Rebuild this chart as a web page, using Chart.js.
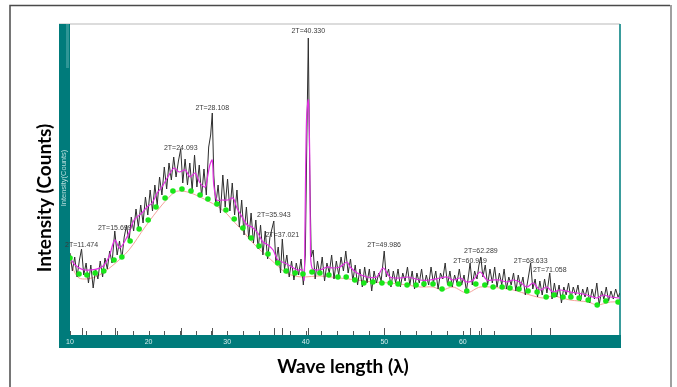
<!DOCTYPE html>
<html>
<head>
<meta charset="utf-8">
<script src="https://cdn.jsdelivr.net/npm/chart.js@4.4.0/dist/chart.umd.min.js"></script>
<style>
html, body { margin: 0; padding: 0; background: #ffffff; }
#wrap { position: relative; width: 677px; height: 387px; }
</style>
</head>
<body>
<div id="wrap"><canvas id="xrdChart" width="677" height="387"></canvas></div>
<script>
"use strict";

// axis ticks (2-theta)
var tickLabels = [10, 20, 30, 40, 50, 60];
var minorTicks = [10, 12, 14, 16, 18, 20, 22, 24, 26, 28, 30, 32, 34, 36, 38, 40, 42, 44, 46, 48, 50, 52, 54, 56, 58, 60, 62, 64];

// marked peaks and the height of their labels
var peakAngles = [11.474, 15.699, 24.093, 28.108, 35.943, 37.021, 40.330, 49.986, 60.919, 62.289, 68.633, 71.058];
var peakLabelHeights = [90, 107, 187, 227, 120, 100, 304, 90, 74, 84, 74, 65];

// measured counts [2T, counts]
var rawTrace = [
    [10.00, 82], [10.30, 64], [10.60, 78], [10.90, 58], [11.20, 75], [11.47, 86], [11.75, 60], [12.05, 72],
    [12.35, 52], [12.65, 70], [12.95, 47], [13.25, 66], [13.55, 56], [13.85, 74], [14.15, 58], [14.45, 77],
    [14.75, 66], [15.05, 84], [15.35, 72], [15.70, 104], [16.00, 80], [16.30, 94], [16.60, 76], [16.90, 98],
    [17.20, 110], [17.50, 92], [17.80, 118], [18.10, 104], [18.40, 126], [18.70, 108], [19.00, 130], [19.30, 112],
    [19.60, 138], [19.90, 120], [20.20, 145], [20.50, 124], [20.80, 150], [21.10, 130], [21.40, 158], [21.70, 140],
    [22.00, 168], [22.30, 146], [22.60, 172], [22.90, 155], [23.20, 178], [23.50, 158], [23.80, 174], [24.09, 186],
    [24.35, 152], [24.65, 176], [24.95, 150], [25.25, 172], [25.55, 145], [25.85, 180], [26.15, 148], [26.45, 170],
    [26.75, 138], [27.05, 166], [27.35, 140], [27.65, 188], [27.90, 200], [28.11, 222], [28.30, 160], [28.55, 130],
    [28.85, 150], [29.15, 122], [29.45, 160], [29.75, 128], [30.05, 156], [30.35, 124], [30.65, 152], [30.95, 120],
    [31.25, 145], [31.55, 108], [31.85, 135], [32.15, 100], [32.45, 128], [32.75, 96], [33.05, 122], [33.35, 92],
    [33.65, 115], [33.95, 86], [34.25, 110], [34.55, 80], [34.85, 104], [35.15, 76], [35.45, 98], [35.94, 114],
    [36.20, 72], [36.50, 88], [36.80, 62], [37.02, 96], [37.30, 66], [37.60, 80], [37.90, 58], [38.20, 74],
    [38.50, 55], [38.80, 72], [39.10, 60], [39.40, 76], [39.70, 50], [39.95, 80], [40.15, 200], [40.33, 297],
    [40.50, 170], [40.70, 78], [40.95, 85], [41.20, 56], [41.50, 74], [41.80, 60], [42.10, 78], [42.40, 54],
    [42.70, 72], [43.00, 62], [43.30, 80], [43.60, 56], [43.90, 74], [44.20, 60], [44.50, 78], [44.80, 64],
    [45.10, 84], [45.40, 62], [45.70, 76], [46.00, 54], [46.30, 70], [46.60, 50], [46.90, 66], [47.20, 48],
    [47.50, 68], [47.80, 52], [48.10, 66], [48.40, 44], [48.70, 64], [49.00, 52], [49.30, 62], [49.60, 54],
    [49.99, 84], [50.25, 58], [50.55, 66], [50.85, 48], [51.15, 64], [51.45, 52], [51.75, 66], [52.05, 48],
    [52.35, 62], [52.65, 54], [52.95, 68], [53.25, 50], [53.55, 64], [53.85, 46], [54.15, 62], [54.45, 52],
    [54.75, 66], [55.05, 48], [55.35, 60], [55.65, 50], [55.95, 68], [56.25, 52], [56.55, 64], [56.85, 46],
    [57.15, 62], [57.45, 56], [57.75, 72], [58.05, 50], [58.35, 64], [58.65, 48], [58.95, 60], [59.25, 52],
    [59.55, 66], [59.85, 50], [60.15, 60], [60.45, 44], [60.70, 58], [60.92, 72], [61.20, 50], [61.50, 64],
    [61.80, 56], [62.05, 70], [62.29, 78], [62.55, 58], [62.85, 70], [63.15, 50], [63.45, 66], [63.75, 52],
    [64.05, 68], [64.35, 48], [64.65, 62], [64.95, 50], [65.25, 66], [65.55, 46], [65.85, 58], [66.15, 50],
    [66.45, 62], [66.75, 44], [67.05, 60], [67.35, 48], [67.65, 58], [67.95, 40], [68.30, 56], [68.63, 72],
    [68.90, 46], [69.20, 56], [69.50, 38], [69.80, 54], [70.10, 40], [70.40, 56], [70.70, 42], [71.06, 62],
    [71.35, 36], [71.65, 52], [71.95, 38], [72.25, 50], [72.55, 32], [72.85, 48], [73.15, 40], [73.45, 52],
    [73.75, 36], [74.05, 48], [74.35, 40], [74.65, 50], [74.95, 34], [75.25, 46], [75.55, 38], [75.85, 48],
    [76.15, 32], [76.45, 46], [76.75, 36], [77.05, 52], [77.35, 30], [77.65, 44], [77.95, 36], [78.25, 48],
    [78.55, 34], [78.85, 44], [79.15, 36], [79.45, 46], [79.75, 38], [80.00, 42]
];

// smoothed counts
var smoothTrace = [
    [10.0, 77], [10.65, 70], [11.9, 65], [14.05, 68], [14.95, 78], [15.7, 95], [16.35, 87], [17.5, 102],
    [18.15, 115], [19.15, 122], [19.8, 128], [20.45, 132], [21.1, 142], [21.7, 148], [22.6, 160], [23.25, 167],
    [23.9, 163], [24.65, 165], [25.3, 158], [25.9, 162], [26.55, 152], [27.2, 148], [27.55, 160], [27.8, 170],
    [28.1, 175], [28.3, 150], [28.7, 135], [29.35, 135], [30.1, 135], [30.75, 137], [31.25, 127], [31.9, 118],
    [32.55, 110], [33.15, 108], [33.9, 102], [34.55, 93], [35.2, 90], [35.85, 85], [36.45, 75], [37.35, 72],
    [38.25, 68], [38.9, 65], [39.55, 65], [39.8, 55], [39.9, 105], [40.1, 215], [40.33, 235], [40.5, 185],
    [40.6, 95], [40.8, 67], [41.8, 65], [42.7, 68], [43.45, 67], [44.35, 68], [45.25, 73], [45.65, 68],
    [46.55, 62], [47.8, 58], [49.05, 58], [49.85, 67], [50.75, 58], [52.0, 57], [53.0, 58], [54.55, 55],
    [55.8, 55], [57.1, 57], [58.0, 58], [58.75, 55], [59.65, 57], [60.5, 53], [61.3, 55], [62.2, 63],
    [63.05, 55], [63.85, 55], [64.7, 55], [65.6, 53], [66.4, 55], [67.25, 53], [68.15, 48], [68.95, 52],
    [69.8, 45], [70.7, 48], [71.45, 43], [72.35, 45], [73.65, 43], [74.55, 42], [75.8, 40], [77.05, 37],
    [77.85, 40], [78.75, 38], [80.0, 37]
];

// fitted background curve
var backgroundCurve = [
    [10.0, 73], [11.15, 57], [13.2, 58], [15.35, 69], [17.5, 85], [19.55, 108], [21.7, 130], [23.35, 143],
    [24.25, 144], [25.4, 142], [26.55, 138], [27.55, 134], [28.7, 129], [29.85, 122], [30.9, 113], [32.0, 104],
    [33.05, 94], [34.05, 86], [35.2, 78], [36.45, 69], [37.5, 62], [38.65, 59], [39.65, 58], [41.8, 59],
    [44.35, 57], [46.5, 55], [48.55, 53], [50.7, 52], [52.9, 50], [54.55, 48], [56.2, 48], [57.35, 45],
    [58.75, 48], [60.5, 42], [62.2, 48], [64.7, 47], [66.4, 45], [68.55, 40], [70.2, 37], [71.5, 39],
    [73.65, 35], [75.95, 33], [77.1, 30], [78.75, 33], [80.0, 33]
];

// background anchor points
var backgroundPoints = [
    [10.0, 77], [11.15, 61], [12.15, 60], [13.2, 62], [14.3, 64], [15.6, 75], [16.6, 78], [17.65, 94],
    [18.8, 106], [19.95, 115], [20.95, 128], [22.1, 137], [23.1, 144], [24.25, 146], [25.4, 144], [26.55, 140],
    [27.55, 136], [28.7, 131], [29.85, 125], [30.9, 116], [32.0, 107], [33.05, 97], [34.05, 89], [35.2, 81],
    [36.45, 72], [37.5, 64], [38.65, 62], [39.65, 61], [40.8, 63], [41.8, 62], [42.95, 60], [44.1, 58],
    [45.15, 58], [46.25, 55], [47.4, 52], [48.55, 53], [49.7, 52], [50.75, 52], [51.75, 51], [52.9, 50],
    [54.05, 50], [55.05, 51], [56.2, 51], [57.35, 46], [58.35, 51], [59.5, 51], [60.5, 44], [61.65, 51],
    [62.8, 50], [63.85, 48], [65.0, 48], [66.0, 47], [67.15, 46], [68.3, 44], [69.45, 43], [70.6, 38],
    [71.6, 40], [72.75, 38], [73.75, 38], [74.8, 37], [75.95, 35], [77.1, 30], [78.2, 34], [79.75, 33]
];

var TEAL = "#007b7b";

function toPoints(list)
{
    return list.map(function(p)
    {
        return { x: p[0], y: p[1] };
    });
}

var framePlugin =
{
    id: "xrdFrame",

    beforeDraw: function(chart)
    {
        var ctx = chart.ctx;
        var area = chart.chartArea;
        ctx.save();
        ctx.fillStyle = "#ffffff";
        ctx.fillRect(0, 0, chart.width, chart.height);

        // outer border
        ctx.strokeStyle = "#4a4a4a";
        ctx.lineWidth = 1.5;
        ctx.beginPath();
        ctx.moveTo(10, 387);
        ctx.lineTo(10, 5.5);
        ctx.lineTo(670, 5.5);
        ctx.stroke();
        ctx.strokeStyle = "#a0a0a0";
        ctx.lineWidth = 2;
        ctx.beginPath();
        ctx.moveTo(671, 5);
        ctx.lineTo(671, 387);
        ctx.stroke();

        // plot frame
        ctx.strokeStyle = "#d0d0d0";
        ctx.lineWidth = 1.5;
        ctx.beginPath();
        ctx.moveTo(59, area.top);
        ctx.lineTo(area.right, area.top);
        ctx.stroke();
        ctx.fillStyle = TEAL;
        ctx.fillRect(59, area.top, area.left - 59, 348 - area.top);
        ctx.fillRect(59, area.bottom, area.right - 58, 348 - area.bottom);
        ctx.fillStyle = "#2f9696";
        ctx.fillRect(66, area.top, 3, 44);
        ctx.fillStyle = "#3a9c9c";
        ctx.fillRect(area.right - 1, area.top, 2, area.bottom - area.top);

        // label inside left strip
        ctx.translate(64, 178);
        ctx.rotate(-Math.PI / 2);
        ctx.fillStyle = "#b9dede";
        ctx.font = "7.5px Arial, 'Liberation Sans', sans-serif";
        ctx.textAlign = "center";
        ctx.textBaseline = "middle";
        ctx.fillText("Intensity(Counts)", 0, 0);
        ctx.restore();
    },

    afterDatasetsDraw: function(chart)
    {
        var ctx = chart.ctx;
        var area = chart.chartArea;
        var xScale = chart.scales.x;
        var yScale = chart.scales.y;
        ctx.save();

        // ticks
        ctx.strokeStyle = "#555555";
        ctx.lineWidth = 1;
        ctx.beginPath();
        minorTicks.forEach(function(v)
        {
            var px = Math.round(xScale.getPixelForValue(v)) + 0.5;
            ctx.moveTo(px, area.bottom);
            ctx.lineTo(px, area.bottom - 4);
        });
        peakAngles.forEach(function(v)
        {
            var px = Math.round(xScale.getPixelForValue(v)) + 0.5;
            ctx.moveTo(px, area.bottom);
            ctx.lineTo(px, area.bottom - 7);
        });
        ctx.stroke();

        // tick labels
        ctx.fillStyle = "#d6eeee";
        ctx.font = "7px Arial, 'Liberation Sans', sans-serif";
        ctx.textAlign = "center";
        ctx.textBaseline = "middle";
        tickLabels.forEach(function(v)
        {
            ctx.fillText(String(v), xScale.getPixelForValue(v), 342);
        });

        // peak labels
        ctx.fillStyle = "#3a3a3a";
        ctx.font = "7px 'Liberation Sans Narrow', Arial, sans-serif";
        peakAngles.forEach(function(v, i)
        {
            ctx.fillText("2T=" + v.toFixed(3), xScale.getPixelForValue(v), yScale.getPixelForValue(peakLabelHeights[i]));
        });

        // axis titles
        ctx.fillStyle = "#000000";
        ctx.font = "bold 19px Lato, 'Open Sans', sans-serif";
        ctx.fillText("Wave length (\u03bb)", 343, 367);
        ctx.translate(45, 198);
        ctx.rotate(-Math.PI / 2);
        ctx.fillText("Intensity (Counts)", 0, 0);
        ctx.restore();
    }
};

var chart = new Chart(document.getElementById("xrdChart").getContext("2d"),
{
    type: "line",
    data:
    {
        datasets: [
            {
                label: "Background",
                data: toPoints(backgroundCurve),
                borderColor: "#f5a29c",
                borderWidth: 1,
                pointRadius: 0,
                tension: 0.3,
                order: 4
            },
            {
                label: "Counts",
                data: toPoints(rawTrace),
                borderColor: "#2e2e2e",
                borderWidth: 1,
                pointRadius: 0,
                tension: 0,
                order: 3
            },
            {
                label: "Smoothed",
                data: toPoints(smoothTrace),
                borderColor: "#e22ee2",
                borderWidth: 1.2,
                pointRadius: 0,
                tension: 0.3,
                order: 2
            },
            {
                label: "Background points",
                data: toPoints(backgroundPoints),
                showLine: false,
                pointRadius: 2.8,
                pointBackgroundColor: "#19e619",
                pointBorderWidth: 0,
                borderColor: "#19e619",
                order: 1
            }
        ]
    },
    options:
    {
        responsive: false,
        animation: false,
        devicePixelRatio: 1,
        layout: { padding: { left: 70, right: 57, top: 24, bottom: 52 } },
        plugins:
        {
            legend: { display: false },
            tooltip: { enabled: false },
            title: { display: false }
        },
        scales:
        {
            x: { type: "linear", min: 10, max: 80, display: false },
            y: { type: "linear", min: 0, max: 311, display: false }
        }
    },
    plugins: [framePlugin]
});
</script>
</body>
</html>
